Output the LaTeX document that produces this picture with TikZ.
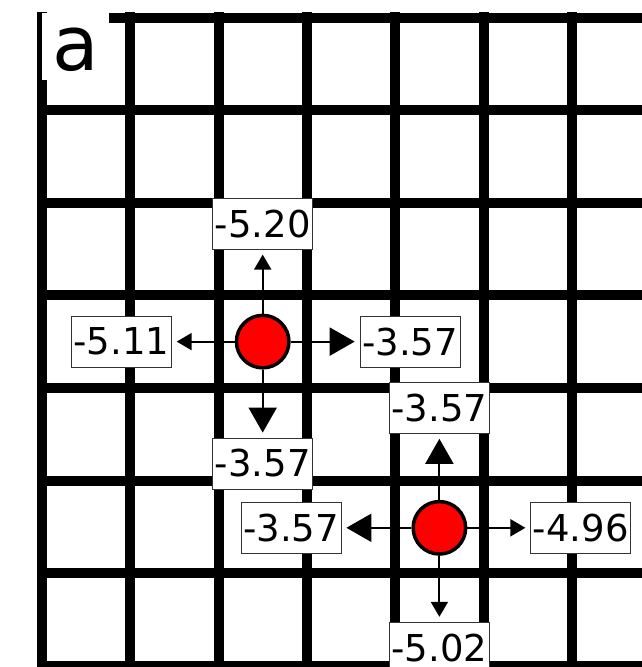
\documentclass[tikz,border=0pt]{standalone}
\usepackage{fontspec}
\setmainfont{DejaVu Sans}
\usetikzlibrary{arrows.meta, positioning}

\begin{document}
\begin{tikzpicture}[
    x=1pt, y=-1pt,
    gridline/.style={line width=10pt, black},
    walker/.style={circle, draw, line width=3.5pt, fill=red, minimum size=52.5pt, inner sep=0pt},
    valbox/.style={draw=black!80, line width=0.8pt, fill=white, font=\fontsize{37}{42}\selectfont, minimum width=100pt, minimum height=51pt, inner sep=2pt},
    thinarr/.style={-{Triangle[length=15pt, width=17pt]}, line width=2pt, shorten >=5pt},
    fatarr/.style={-{Triangle[length=25pt, width=28pt]}, line width=2pt, shorten >=5pt},
]
\useasboundingbox (0,0) rectangle (642,667);

% === Lattice ===
\begin{scope}
\clip (37,12.5) rectangle (642,667);
\foreach \i in {0,...,6}
    \draw[gridline] (42+88.3*\i, 0) -- (42+88.3*\i, 680);
\foreach \j in {0,...,7}
    \draw[gridline] (30, 17.5+92.6*\j) -- (660, 17.5+92.6*\j);
\end{scope}

% === Panel tag ===
\node[fill=white, anchor=north west, minimum width=67pt, minimum height=67pt, inner sep=0pt, text height=48pt, text depth=0pt, font=\fontsize{76}{80}\selectfont] (tag) at (42,12.5) {a};

% === Walkers ===
\node[walker] (A) at (262.7, 341.6) {};
\node[walker] (B) at (439.4, 527.8) {};

% === Move values round A ===
\node[valbox, above=64pt of A] (An) {-5.20};
\node[valbox, right=69pt of A] (Ae) {-3.57};
\node[valbox, below=68pt of A] (As) {-3.57};
\node[valbox, left=63pt of A] (Aw) {-5.11};

\draw[thinarr] (A) -- (An);
\draw[fatarr] (A) -- (Ae);
\draw[fatarr] (A) -- (As);
\draw[thinarr] (A) -- (Aw);

% === Move values round B ===
\node[valbox, above=66pt of B] (Bn) {-3.57};
\node[valbox, left=70pt of B] (Bw) {-3.57};
\node[valbox, right=63pt of B] (Be) {-4.96};
\node[valbox, below=66pt of B] (Bs) {-5.02};

\draw[fatarr] (B) -- (Bn);
\draw[fatarr] (B) -- (Bw);
\draw[thinarr] (B) -- (Be);
\draw[thinarr] (B) -- (Bs);

\end{tikzpicture}
\end{document}
